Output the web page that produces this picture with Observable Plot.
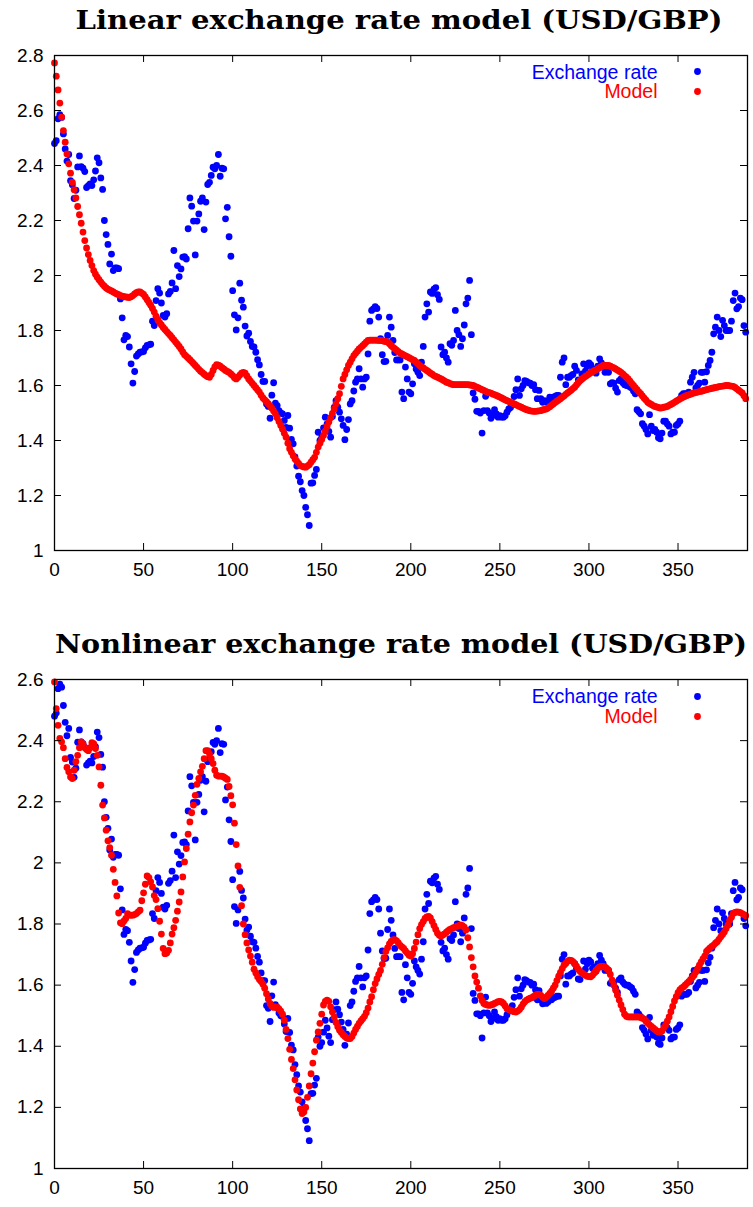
<!DOCTYPE html>
<html><head><meta charset="utf-8">
<script src="https://cdn.jsdelivr.net/npm/d3@7"></script>
<script src="https://cdn.jsdelivr.net/npm/@observablehq/plot@0.6"></script>
<style>
html,body{margin:0;padding:0;background:#fff;}
#page{position:relative;width:753px;height:1207px;overflow:hidden;background:#fff;}
#page > svg{position:absolute;left:0;}
</style></head><body><div id="page"></div>
<script>
const titles = ["Linear exchange rate model (USD/GBP)", "Nonlinear exchange rate model (USD/GBP)"];
const legendLabels = ["Exchange rate", "Model"];
const xTicks = [0, 50, 100, 150, 200, 250, 300, 350];
const yTicksTop = [1, 1.2, 1.4, 1.6, 1.8, 2, 2.2, 2.4, 2.6, 2.8];
const yTicksBottom = [1, 1.2, 1.4, 1.6, 1.8, 2, 2.2, 2.4, 2.6];

const exchangeRate = [
2.48,2.49,2.57,2.585,2.575,2.515,2.46,2.416,2.44,2.345,
2.33,2.28,2.31,2.395,2.435,2.396,2.39,2.378,2.32,2.327,
2.333,2.327,2.348,2.38,2.428,2.41,2.355,2.313,2.20,2.149,
2.113,2.042,2.078,2.018,2.028,2.028,2.025,1.915,1.846,1.766,
1.782,1.778,1.74,1.679,1.609,1.651,1.707,1.715,1.721,1.722,
1.724,1.737,1.746,1.748,1.75,1.834,1.818,1.909,1.952,1.936,
1.90,1.855,1.849,1.861,1.933,1.942,1.973,2.091,1.952,2.036,
1.996,2.024,2.067,2.069,2.06,2.17,2.282,2.252,2.198,2.075,
2.198,2.224,2.27,2.282,2.167,2.267,2.331,2.339,2.364,2.394,
2.388,2.40,2.44,2.361,2.39,2.388,2.206,2.248,2.141,2.07,
1.945,1.857,1.802,1.846,1.972,1.91,1.885,1.816,1.78,1.79,
1.76,1.742,1.74,1.721,1.694,1.675,1.64,1.615,1.615,1.533,
1.524,1.481,1.565,1.61,1.536,1.527,1.509,1.50,1.497,1.473,
1.448,1.491,1.445,1.404,1.388,1.34,1.307,1.27,1.25,1.218,
1.20,1.157,1.13,1.091,1.245,1.246,1.273,1.295,1.43,1.40,
1.412,1.446,1.485,1.46,1.433,1.412,1.487,1.52,1.545,1.521,
1.503,1.479,1.455,1.403,1.44,1.476,1.533,1.545,1.58,1.612,
1.624,1.661,1.624,1.594,1.624,1.63,1.715,1.834,1.873,1.879,
1.887,1.88,1.849,1.77,1.712,1.687,1.688,1.782,1.849,1.812,
1.764,1.72,1.693,1.693,1.693,1.576,1.552,1.667,1.624,1.576,
1.57,1.606,1.679,1.66,1.648,1.636,1.685,1.742,1.849,1.897,
1.867,1.94,1.935,1.95,1.956,1.93,1.913,1.74,1.712,1.721,
1.70,1.685,1.752,1.746,1.764,1.873,1.80,1.785,1.742,1.77,
1.82,1.897,1.918,1.982,1.785,1.573,1.55,1.506,1.506,1.50,
1.427,1.509,1.561,1.509,1.50,1.481,1.491,1.512,1.497,1.485,
1.49,1.485,1.485,1.49,1.503,1.515,1.52,1.533,1.56,1.585,
1.624,1.564,1.588,1.60,1.618,1.615,1.61,1.609,1.60,1.603,
1.585,1.552,1.582,1.552,1.539,1.545,1.54,1.545,1.558,1.552,
1.558,1.56,1.564,1.564,1.63,1.685,1.70,1.603,1.63,1.63,
1.636,1.64,1.67,1.655,1.62,1.618,1.642,1.679,1.652,1.67,
1.682,1.676,1.655,1.66,1.645,1.67,1.697,1.682,1.67,1.648,
1.65,1.648,1.606,1.61,1.609,1.59,1.576,1.618,1.624,1.61,
1.603,1.60,1.60,1.595,1.591,1.58,1.57,1.512,1.505,1.497,
1.461,1.452,1.44,1.424,1.494,1.452,1.436,1.44,1.43,1.41,
1.406,1.427,1.47,1.47,1.46,1.452,1.424,1.43,1.43,1.455,
1.46,1.47,1.564,1.57,1.57,1.57,1.576,1.612,1.63,1.648,
1.591,1.60,1.609,1.648,1.648,1.612,1.65,1.673,1.691,1.721,
1.788,1.812,1.849,1.80,1.778,1.837,1.818,1.80,1.80,1.80,
1.834,1.909,1.936,1.879,1.887,1.918,1.912,1.818,1.794
];

const linearModel = [
2.773,2.725,2.675,2.627,2.576,2.527,2.485,2.442,2.406,2.372,
2.339,2.312,2.282,2.251,2.221,2.19,2.158,2.127,2.10,2.076,
2.055,2.036,2.018,2.005,1.994,1.985,1.976,1.968,1.961,1.955,
1.95,1.947,1.944,1.94,1.936,1.933,1.93,1.927,1.925,1.923,
1.922,1.921,1.92,1.923,1.927,1.933,1.938,1.94,1.94,1.936,
1.931,1.922,1.912,1.902,1.892,1.88,1.867,1.852,1.84,1.829,
1.82,1.811,1.804,1.796,1.789,1.782,1.774,1.766,1.758,1.75,
1.742,1.733,1.722,1.712,1.706,1.70,1.694,1.687,1.68,1.673,
1.666,1.659,1.652,1.647,1.641,1.636,1.632,1.63,1.64,1.655,
1.668,1.676,1.674,1.67,1.665,1.66,1.655,1.651,1.648,1.642,
1.636,1.628,1.624,1.63,1.638,1.645,1.648,1.645,1.635,1.624,
1.616,1.608,1.60,1.592,1.584,1.576,1.565,1.555,1.548,1.541,
1.534,1.527,1.517,1.507,1.497,1.483,1.469,1.455,1.441,1.426,
1.412,1.39,1.37,1.357,1.345,1.333,1.325,1.317,1.309,1.306,
1.304,1.303,1.307,1.312,1.321,1.33,1.339,1.357,1.376,1.39,
1.404,1.418,1.434,1.451,1.467,1.483,1.499,1.515,1.533,1.552,
1.57,1.597,1.624,1.64,1.657,1.673,1.685,1.697,1.709,1.717,
1.725,1.733,1.739,1.745,1.751,1.758,1.764,1.765,1.765,1.765,
1.765,1.765,1.764,1.764,1.763,1.761,1.76,1.758,1.752,1.745,
1.739,1.734,1.729,1.723,1.718,1.715,1.711,1.708,1.705,1.701,
1.698,1.694,1.691,1.685,1.679,1.673,1.668,1.664,1.659,1.655,
1.65,1.645,1.641,1.636,1.633,1.63,1.627,1.624,1.62,1.616,
1.612,1.61,1.607,1.605,1.603,1.603,1.603,1.603,1.603,1.603,
1.603,1.603,1.603,1.602,1.601,1.60,1.597,1.594,1.591,1.588,
1.585,1.582,1.579,1.576,1.574,1.572,1.569,1.567,1.564,1.561,
1.558,1.555,1.551,1.548,1.545,1.542,1.539,1.536,1.533,1.53,
1.527,1.524,1.521,1.518,1.515,1.512,1.51,1.508,1.507,1.506,
1.506,1.507,1.508,1.509,1.511,1.513,1.515,1.518,1.523,1.528,
1.533,1.538,1.543,1.547,1.552,1.557,1.562,1.568,1.573,1.578,
1.583,1.589,1.594,1.602,1.61,1.618,1.623,1.628,1.633,1.637,
1.642,1.646,1.65,1.654,1.657,1.661,1.665,1.669,1.673,1.673,
1.673,1.673,1.67,1.667,1.664,1.66,1.656,1.652,1.648,1.642,
1.636,1.63,1.624,1.616,1.608,1.60,1.592,1.585,1.577,1.57,
1.562,1.554,1.547,1.539,1.535,1.531,1.527,1.524,1.522,1.52,
1.518,1.519,1.521,1.522,1.524,1.528,1.531,1.535,1.539,1.543,
1.547,1.551,1.555,1.558,1.561,1.564,1.566,1.568,1.571,1.573,
1.575,1.576,1.578,1.579,1.581,1.583,1.585,1.587,1.588,1.59,
1.591,1.593,1.594,1.596,1.597,1.598,1.599,1.60,1.60,1.599,
1.598,1.597,1.593,1.588,1.583,1.578,1.573,1.563,1.552
];

const nonlinearModel = [
2.592,2.505,2.45,2.407,2.396,2.377,2.341,2.312,2.298,2.281,
2.276,2.303,2.331,2.352,2.377,2.396,2.389,2.377,2.371,2.367,
2.377,2.393,2.39,2.374,2.352,2.314,2.254,2.189,2.147,2.107,
2.072,2.05,2.025,1.979,1.936,1.892,1.836,1.804,1.801,1.81,
1.818,1.834,1.829,1.829,1.829,1.831,1.834,1.84,1.845,1.876,
1.902,1.93,1.957,1.952,1.938,1.921,1.893,1.88,1.85,1.809,
1.767,1.72,1.703,1.705,1.714,1.738,1.767,1.788,1.812,1.842,
1.872,1.905,1.954,2.003,2.047,2.094,2.134,2.164,2.189,2.221,
2.257,2.276,2.298,2.316,2.341,2.367,2.367,2.356,2.341,2.325,
2.303,2.287,2.284,2.284,2.284,2.281,2.277,2.273,2.25,2.22,
2.19,2.13,2.06,1.99,1.92,1.86,1.80,1.765,1.738,1.715,
1.695,1.675,1.652,1.64,1.627,1.618,1.612,1.603,1.59,1.572,
1.555,1.54,1.531,1.527,1.529,1.527,1.522,1.515,1.505,1.485,
1.455,1.425,1.39,1.357,1.327,1.29,1.257,1.225,1.195,1.18,
1.185,1.20,1.233,1.27,1.31,1.345,1.382,1.42,1.447,1.475,
1.505,1.535,1.547,1.551,1.547,1.529,1.512,1.495,1.478,1.464,
1.452,1.445,1.438,1.432,1.427,1.425,1.425,1.432,1.443,1.455,
1.465,1.475,1.483,1.49,1.498,1.51,1.525,1.545,1.562,1.585,
1.605,1.62,1.635,1.648,1.668,1.69,1.71,1.722,1.735,1.743,
1.748,1.749,1.745,1.738,1.73,1.725,1.72,1.712,1.705,1.698,
1.695,1.703,1.72,1.741,1.765,1.785,1.798,1.808,1.818,1.823,
1.825,1.82,1.808,1.795,1.782,1.77,1.763,1.761,1.764,1.768,
1.773,1.778,1.782,1.785,1.788,1.79,1.793,1.795,1.797,1.795,
1.79,1.78,1.755,1.725,1.69,1.66,1.63,1.61,1.59,1.565,
1.55,1.54,1.537,1.535,1.534,1.535,1.537,1.54,1.543,1.546,
1.547,1.545,1.54,1.532,1.523,1.52,1.517,1.515,1.513,1.512,
1.515,1.52,1.528,1.538,1.546,1.551,1.554,1.557,1.559,1.563,
1.567,1.57,1.57,1.566,1.56,1.556,1.56,1.566,1.573,1.58,
1.59,1.60,1.615,1.629,1.642,1.654,1.665,1.671,1.678,1.682,
1.681,1.677,1.67,1.662,1.652,1.645,1.64,1.636,1.632,1.629,
1.628,1.627,1.632,1.64,1.648,1.655,1.66,1.661,1.661,1.66,
1.655,1.649,1.635,1.616,1.60,1.583,1.567,1.551,1.535,1.52,
1.505,1.498,1.496,1.496,1.496,1.496,1.496,1.496,1.496,1.494,
1.492,1.489,1.482,1.476,1.47,1.465,1.46,1.455,1.45,1.447,
1.447,1.45,1.46,1.469,1.482,1.496,1.513,1.53,1.548,1.562,
1.575,1.584,1.59,1.594,1.60,1.606,1.611,1.618,1.625,1.632,
1.643,1.654,1.665,1.676,1.686,1.695,1.71,1.716,1.722,1.727,
1.731,1.737,1.742,1.75,1.758,1.766,1.774,1.785,1.796,1.812,
1.822,1.834,1.838,1.84,1.839,1.837,1.834,1.831,1.827
];

const page = document.getElementById("page");
const NS = "http://www.w3.org/2000/svg";
const BLUE = "#0000ff", RED = "#ff0000";
const fmt = d => String(Math.round(d * 10) / 10);

function addTitle(text, top, h, baseline, cx, tw) {
  const svg = document.createElementNS(NS, "svg");
  svg.setAttribute("width", 753);
  svg.setAttribute("height", h);
  svg.style.top = top + "px";
  const t = document.createElementNS(NS, "text");
  t.setAttribute("x", cx);
  t.setAttribute("y", baseline);
  t.setAttribute("text-anchor", "middle");
  t.setAttribute("font-family", "DejaVu Serif, serif");
  t.setAttribute("font-weight", "bold");
  t.setAttribute("font-size", "26");
  t.setAttribute("fill", "#000");
  t.setAttribute("textLength", tw);
  t.setAttribute("lengthAdjust", "spacingAndGlyphs");
  t.textContent = text;
  svg.appendChild(t);
  page.appendChild(svg);
}

function addPanel({model, yDomain, yTicks, top, height, mt, mb, legDy}) {
  const W = 753, ML = 54, MR = 6;
  const fw = W - ML - MR, fh = height - mt - mb, tl = 7;
  const chart = Plot.plot({
    width: W, height, marginTop: mt, marginBottom: mb, marginLeft: ML, marginRight: MR,
    x: {domain: [0, 389]},
    y: {domain: yDomain},
    style: {fontFamily: "Liberation Sans, Arial, Helvetica, sans-serif", fontSize: "19px", background: "transparent", color: "#000", overflow: "visible"},
    marks: [
      Plot.dot(exchangeRate, {x: (d, i) => i, y: d => d, r: 3.4, fill: BLUE}),
      Plot.dot(model, {x: (d, i) => i, y: d => d, r: 3.4, fill: RED}),
      Plot.tickY(yTicks, {y: d => d, insetRight: fw - tl, stroke: "#000"}),
      Plot.tickY(yTicks, {y: d => d, insetLeft: fw - tl, stroke: "#000"}),
      Plot.tickX(xTicks, {x: d => d, insetTop: fh - tl, stroke: "#000"}),
      Plot.tickX(xTicks, {x: d => d, insetBottom: fh - tl, stroke: "#000"}),
      Plot.frame({stroke: "#000", strokeWidth: 1.3}),
      Plot.axisY(yTicks, {tickSize: 0, tickPadding: 11, tickFormat: fmt, label: null, fill: "#000"}),
      Plot.axisX(xTicks, {tickSize: 0, tickPadding: 12, label: null, fill: "#000"}),
      Plot.text([legendLabels[0]], {text: d => d, frameAnchor: "top-right", dx: -90, dy: legDy[0], textAnchor: "end", lineAnchor: "middle", fill: BLUE, fontSize: 19.5}),
      Plot.text([legendLabels[1]], {text: d => d, frameAnchor: "top-right", dx: -90, dy: legDy[1], textAnchor: "end", lineAnchor: "middle", fill: RED, fontSize: 19.5}),
      Plot.dot([legendLabels[0]], {frameAnchor: "top-right", dx: -50, dy: legDy[2], r: 3.4, fill: BLUE}),
      Plot.dot([legendLabels[1]], {frameAnchor: "top-right", dx: -50, dy: legDy[3], r: 3.4, fill: RED})
    ]
  });
  chart.style.top = top + "px";
  page.appendChild(chart);
}

addPanel({model: linearModel, yDomain: [1, 2.8], yTicks: yTicksTop, top: 45, height: 555, mt: 10, mb: 50, legDy: [17, 36.7, 16, 36]});
addPanel({model: nonlinearModel, yDomain: [1, 2.6], yTicks: yTicksBottom, top: 670, height: 537, mt: 9, mb: 39, legDy: [17.5, 37.5, 17, 37]});
addTitle(titles[0], 0, 45, 29, 399, 647);
addTitle(titles[1], 600, 70, 53, 401, 692);
</script></body></html>
